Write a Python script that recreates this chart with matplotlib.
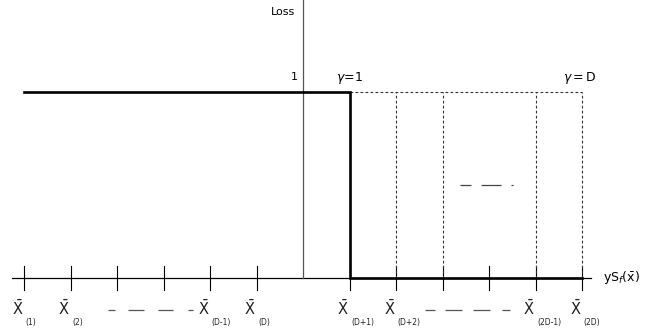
import matplotlib
matplotlib.use("Agg")
import matplotlib.pyplot as plt

# ---- data ----
positions = [-6, -5, -4, -3, -2, -1, 1, 2, 3, 4, 5, 6]
loss_values = [1, 1, 1, 1, 1, 1, 0, 0, 0, 0, 0, 0]
tick_subscripts = ["(1)", "(2)", "", "", "(D-1)", "(D)",
                   "(D+1)", "(D+2)", "", "", "(2D-1)", "(2D)"]
gamma_lines = [2, 3, 5, 6]
gamma_labels = [r"$\gamma\!=\!1$", r"$\gamma = \mathrm{D}$"]

plt.rcParams['font.family'] = ['DejaVu Sans']
plt.rcParams['mathtext.fontset'] = 'dejavusans'

fig = plt.figure(figsize=(6.52, 3.31), dpi=100)
ax = fig.add_axes([0, 0, 1, 1])
ax.set_xlim(-303 / 46.5, 349 / 46.5)
ax.set_ylim(-53 / 186, 278 / 186)
ax.axis('off')

# axes lines
ax.plot([-6.25, 6.2], [0, 0], color='black', lw=0.9, zorder=2)
ax.plot([0, 0], [0, 1.5], color='#555555', lw=0.9, zorder=2)
for p in positions:
    ax.plot([p, p], [-0.065, 0.065], color='black', lw=0.8, zorder=2)

# loss step function
xs, ys = [], []
xs.append(positions[0]); ys.append(loss_values[0])
for i in range(1, len(positions)):
    if loss_values[i] != loss_values[i - 1]:
        xs.append(positions[i]); ys.append(loss_values[i - 1])
        xs.append(positions[i]); ys.append(loss_values[i])
xs.append(positions[-1]); ys.append(loss_values[-1])
ax.plot(xs, ys, color='black', lw=1.9, solid_joinstyle='miter', zorder=3)

# gamma dashed outlines
ax.plot([1, positions[-1]], [1, 1], color='#333333', lw=0.8,
        linestyle=(0, (2.5, 2)), zorder=2)
for g in gamma_lines:
    ax.plot([g, g], [0, 1], color='#333333', lw=0.8,
            linestyle=(0, (2.5, 2)), zorder=2)

# middle dashes
ax.plot([(460 - 303) / 46.5, (513 - 303) / 46.5], [(278 - 185) / 186] * 2,
        color='#444444', lw=0.9, linestyle=(0, (8.8, 8, 16, 8, 1.6, 30)))

# bottom dashes
ax.plot([(108 - 303) / 46.5, (193 - 303) / 46.5], [-32 / 186] * 2,
        color='#555555', lw=0.9,
        linestyle=(0, (5.6, 10.4, 12.8, 11.2, 12, 12, 4, 30)))
ax.plot([(425 - 303) / 46.5, (510 - 303) / 46.5], [-32 / 186] * 2,
        color='#555555', lw=0.9,
        linestyle=(0, (8, 8, 13.6, 8.8, 13.6, 9.6, 6.4, 30)))

# tick labels
for p, sub in zip(positions, tick_subscripts):
    if not sub:
        continue
    ax.text(p - 0.14, -0.20, r"$\bar{\mathrm{X}}$", fontsize=10.5,
            ha='center', va='baseline', color='#222222')
    ax.text(p + 0.03, -0.255, sub, fontsize=5.5, ha='left', va='baseline',
            color='#222222')

# text labels
ax.text(-0.18, 1.43, "Loss", fontsize=8, ha='right', va='center')
ax.text(-0.12, 1.08, "1", fontsize=8, ha='right', va='center')
ax.text(1, 1.075, gamma_labels[0], fontsize=9, ha='center', va='center')
ax.text(5.95, 1.075, gamma_labels[1], fontsize=9, ha='center', va='center')
ax.text(6.45, 0.0, r"$\mathrm{yS}_f(\bar{\mathrm{x}})$", fontsize=9,
        ha='left', va='center')

fig.savefig("out.png", dpi=100)
